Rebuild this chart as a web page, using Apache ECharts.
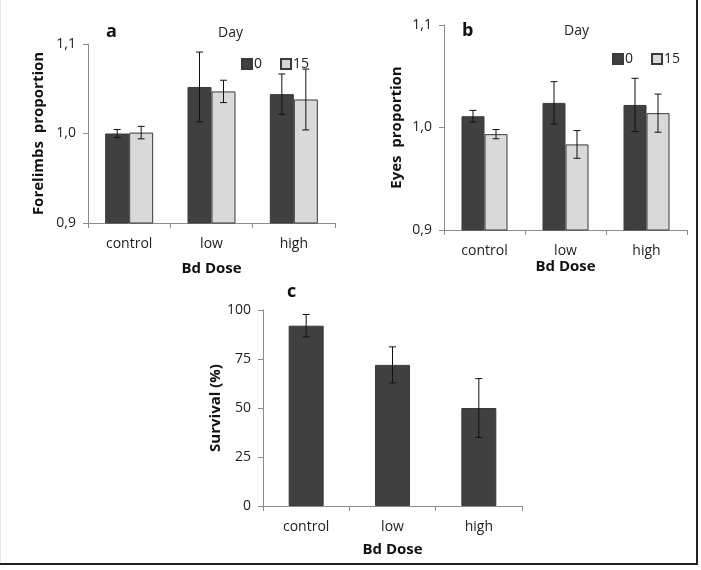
<!DOCTYPE html>
<html>
<head>
<meta charset="utf-8">
<script src="https://cdn.jsdelivr.net/npm/echarts@6/dist/echarts.min.js"></script>
<style>
  html, body { margin: 0; padding: 0; background: #fff; }
  #chart { width: 701px; height: 570px; }
</style>
</head>
<body>
<div id="chart"></div>
<script>
// categories shared by all panels
const doses = ['control', 'low', 'high'];
const days = ['0', '15'];

// panel a: forelimbs proportion
const forelimbsDay0 = [1.000, 1.052, 1.044];
const forelimbsDay0Err = [0.0045, 0.039, 0.0225];
const forelimbsDay15 = [1.001, 1.047, 1.038];
const forelimbsDay15Err = [0.007, 0.0125, 0.034];

// panel b: eyes proportion
const eyesDay0 = [1.011, 1.024, 1.022];
const eyesDay0Err = [0.0057, 0.0207, 0.026];
const eyesDay15 = [0.9935, 0.9835, 1.014];
const eyesDay15Err = [0.0045, 0.0135, 0.0186];

// panel c: survival
const survival = [92, 72, 50];
const survivalErr = [5.7, 9.2, 15];

const dark = '#404040';
const light = '#d9d9d9';
const font = '"Open Sans", sans-serif';

function errData(vals, errs) {
  return vals.map((v, i) => [i, v - errs[i], v + errs[i]]);
}

function errSeries(idx, vals, errs, offset) {
  return {
    type: 'custom',
    xAxisIndex: idx,
    yAxisIndex: idx,
    z: 10,
    silent: true,
    data: errData(vals, errs),
    renderItem(params, api) {
      const lo = api.coord([api.value(0), api.value(1)]);
      const hi = api.coord([api.value(0), api.value(2)]);
      const x = lo[0] + offset;
      const cap = 3.5;
      const style = { stroke: '#111', lineWidth: 1 };
      return {
        type: 'group',
        children: [
          { type: 'line', shape: { x1: x, y1: lo[1], x2: x, y2: hi[1] }, style },
          { type: 'line', shape: { x1: x - cap, y1: lo[1], x2: x + cap, y2: lo[1] }, style },
          { type: 'line', shape: { x1: x - cap, y1: hi[1], x2: x + cap, y2: hi[1] }, style }
        ]
      };
    }
  };
}

function xAxisOf(idx, gap) {
  return {
    type: 'category',
    gridIndex: idx,
    data: doses,
    axisLine: { lineStyle: { color: '#8c8c8c', width: 1 } },
    axisTick: { show: true, length: 5, lineStyle: { color: '#8c8c8c' } },
    axisLabel: { color: '#222', fontSize: 14, fontFamily: font, margin: 14 },
    name: 'Bd Dose',
    nameLocation: 'middle',
    nameGap: gap,
    nameTextStyle: { color: '#111', fontSize: 15, fontWeight: 'bold', fontFamily: font }
  };
}

function yAxisOf(idx, min, max, interval, name, gap, fmt) {
  return {
    type: 'value',
    gridIndex: idx,
    min, max, interval,
    splitLine: { show: false },
    axisLine: { show: true, lineStyle: { color: '#8c8c8c', width: 1 } },
    axisTick: { show: true, length: 5, lineStyle: { color: '#8c8c8c' } },
    axisLabel: { color: '#222', fontSize: 14, fontFamily: font, margin: 12, formatter: fmt },
    name,
    nameLocation: 'middle',
    nameGap: gap,
    nameTextStyle: { color: '#111', fontSize: 15, fontWeight: 'bold', fontFamily: font }
  };
}

const commaFmt = v => v.toFixed(1).replace('.', ',');

function barSeries(idx, name, vals, color, width) {
  return {
    type: 'bar',
    name,
    xAxisIndex: idx,
    yAxisIndex: idx,
    data: vals,
    barWidth: width,
    barGap: '0%',
    itemStyle: { color, borderColor: '#3a3a3a', borderWidth: 1 }
  };
}

const chart = echarts.init(document.getElementById('chart'), null, { renderer: 'canvas' });

chart.setOption({
  animation: false,
  backgroundColor: '#fff',
  textStyle: { fontFamily: font },
  grid: [
    { left: 88, top: 44, width: 247, height: 179 },
    { left: 444, top: 25, width: 243, height: 205 },
    { left: 263, top: 310, width: 259, height: 196 }
  ],
  legend: [
    {
      data: days.map(d => ({ name: 'a' + d })),
      formatter: n => n.slice(1),
      left: 236, top: 52, itemWidth: 10, itemHeight: 10, itemGap: 18,
      icon: 'rect',
      textStyle: { fontSize: 14, color: '#222', fontFamily: font, padding: [0, 0, 0, -3] }
    },
    {
      data: days.map(d => ({ name: 'b' + d })),
      formatter: n => n.slice(1),
      left: 607, top: 47, itemWidth: 10, itemHeight: 10, itemGap: 18,
      icon: 'rect',
      textStyle: { fontSize: 14, color: '#222', fontFamily: font, padding: [0, 0, 0, -3] }
    }
  ],
  xAxis: [xAxisOf(0, 38), xAxisOf(1, 27), xAxisOf(2, 36)],
  yAxis: [
    yAxisOf(0, 0.9, 1.1, 0.1, 'Forelimbs  proportion', 42, commaFmt),
    yAxisOf(1, 0.9, 1.1, 0.1, 'Eyes  proportion', 40, commaFmt),
    yAxisOf(2, 0, 100, 25, 'Survival (%)', 38)
  ],
  series: [
    barSeries(0, 'a' + days[0], forelimbsDay0, dark, 24),
    barSeries(0, 'a' + days[1], forelimbsDay15, light, 24),
    errSeries(0, forelimbsDay0, forelimbsDay0Err, -12),
    errSeries(0, forelimbsDay15, forelimbsDay15Err, 12),
    barSeries(1, 'b' + days[0], eyesDay0, dark, 23),
    barSeries(1, 'b' + days[1], eyesDay15, light, 23),
    errSeries(1, eyesDay0, eyesDay0Err, -11.5),
    errSeries(1, eyesDay15, eyesDay15Err, 11.5),
    barSeries(2, 'survival', survival, dark, 35),
    errSeries(2, survival, survivalErr, 0)
  ],
  graphic: [
    { type: 'text', left: 106, top: 23, style: { text: 'a', font: 'bold 18px ' + font, fill: '#111' } },
    { type: 'text', left: 462, top: 22, style: { text: 'b', font: 'bold 18px ' + font, fill: '#111' } },
    { type: 'text', left: 287, top: 283, style: { text: 'c', font: 'bold 18px ' + font, fill: '#111' } },
    { type: 'text', left: 218, top: 26, style: { text: 'Day', font: '14px ' + font, fill: '#222' } },
    { type: 'text', left: 564, top: 24, style: { text: 'Day', font: '14px ' + font, fill: '#222' } },
    { type: 'line', shape: { x1: 697, y1: 0, x2: 697, y2: 564 }, style: { stroke: '#222', lineWidth: 2 } },
    { type: 'line', shape: { x1: 0, y1: 564, x2: 698, y2: 564 }, style: { stroke: '#222', lineWidth: 2 } },
    { type: 'line', shape: { x1: 0.5, y1: 0, x2: 0.5, y2: 563 }, style: { stroke: '#e6e6e6', lineWidth: 1 } }
  ]
});
</script>
</body>
</html>
